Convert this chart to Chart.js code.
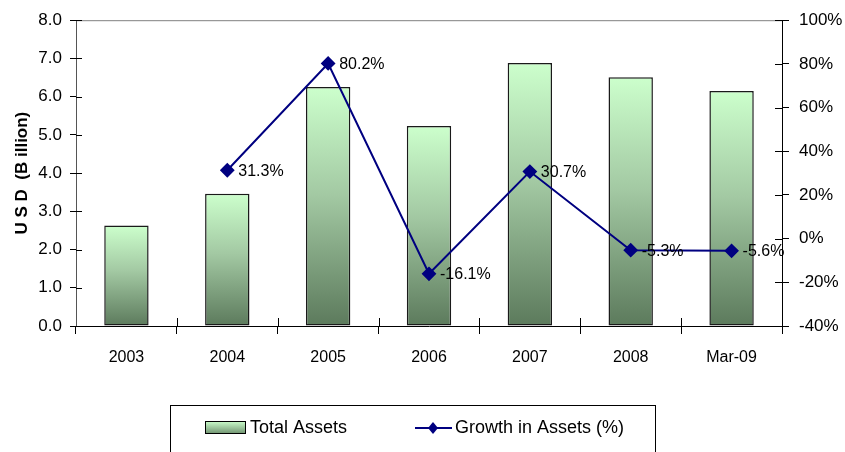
<!DOCTYPE html>
<html>
<head>
<meta charset="utf-8">
<title>Total Assets</title>
<script src="https://cdn.jsdelivr.net/npm/chart.js@4/dist/chart.umd.min.js"></script>
<style>
  html, body { margin: 0; padding: 0; background: #fff; }
  #wrap { width: 845px; height: 452px; position: relative; }
</style>
</head>
<body>
<div id="wrap"><canvas id="assetsChart" width="845" height="452"></canvas></div>
<script>
const categories = ['2003', '2004', '2005', '2006', '2007', '2008', 'Mar-09'];
const totalAssets = [2.63, 3.46, 6.25, 5.23, 6.88, 6.51, 6.15];
const growthPct = [null, 31.3, 80.2, -16.1, 30.7, -5.3, -5.6];
const growthLabels = [null, '31.3%', '80.2%', '-16.1%', '30.7%', '-5.3%', '-5.6%'];

const FONT = '"Liberation Sans Narrow", "Arial Narrow", "Liberation Sans", Arial, sans-serif';
const NAVY = '#000080';

// each bar gets its own light-to-dark vertical gradient
function barFill(ctx) {
  const chart = ctx.chart;
  if (!chart.chartArea || !chart.scales.y) return '#9fc59f';
  const y = chart.scales.y;
  const top = y.getPixelForValue(totalAssets[ctx.dataIndex]);
  const base = y.getPixelForValue(0);
  const g = chart.ctx.createLinearGradient(0, top, 0, base);
  g.addColorStop(0, '#ccffcc');
  g.addColorStop(0.45, '#a3c9a3');
  g.addColorStop(1, '#5c7a5c');
  return g;
}

// percentage labels to the right of each marker
const pointLabels = {
  id: 'pointLabels',
  afterDatasetsDraw(chart) {
    const meta = chart.getDatasetMeta(1);
    const c = chart.ctx;
    c.save();
    c.font = '16px ' + FONT;
    c.fillStyle = '#000';
    c.textBaseline = 'middle';
    meta.data.forEach((pt, i) => {
      if (growthLabels[i] == null) return;
      c.fillText(growthLabels[i], pt.x + 11, pt.y + 1);
    });
    c.restore();
  }
};

// frame on top, inner tick marks, and the legend box under the chart
const extras = {
  id: 'extras',
  beforeDatasetsDraw(chart) {
    const a = chart.chartArea, c = chart.ctx;
    c.save();
    c.strokeStyle = '#808080';
    c.lineWidth = 1;
    c.beginPath();
    c.moveTo(a.left, a.top + 0.5);
    c.lineTo(a.right, a.top + 0.5);
    c.stroke();
    // inner halves of the tick marks
    c.strokeStyle = '#000';
    c.beginPath();
    chart.scales.y.ticks.forEach(t => {
      const py = Math.round(chart.scales.y.getPixelForValue(t.value)) + 0.5;
      c.moveTo(a.left, py); c.lineTo(a.left + 6, py);
    });
    chart.scales.y1.ticks.forEach(t => {
      const py = Math.round(chart.scales.y1.getPixelForValue(t.value)) + 0.5;
      c.moveTo(a.right - 7, py); c.lineTo(a.right, py);
    });
    const xs = chart.scales.x;
    for (let i = 1; i < categories.length; i++) {
      const px = Math.round((xs.getPixelForTick(i - 1) + xs.getPixelForTick(i)) / 2) + 0.5;
      c.moveTo(px, a.bottom); c.lineTo(px, a.bottom - 8);
    }
    c.stroke();
    c.restore();
  },
  afterDraw(chart) {
    const c = chart.ctx;
    c.save();
    c.strokeStyle = '#000';
    c.lineWidth = 1;
    c.strokeRect(170.5, 405.5, 485, 60);
    // bar swatch
    const g = c.createLinearGradient(0, 421, 0, 434);
    g.addColorStop(0, '#ccffcc');
    g.addColorStop(1, '#6f916f');
    c.fillStyle = g;
    c.fillRect(205, 421, 40, 12);
    c.strokeRect(205.5, 421.5, 40, 12);
    c.font = '18px ' + FONT;
    c.fillStyle = '#000';
    c.textBaseline = 'middle';
    c.fillText('Total Assets', 250, 428);
    // line swatch
    c.strokeStyle = NAVY;
    c.lineWidth = 2;
    c.beginPath();
    c.moveTo(415, 428);
    c.lineTo(452, 428);
    c.stroke();
    c.fillStyle = NAVY;
    c.beginPath();
    c.moveTo(433, 422);
    c.lineTo(438, 428);
    c.lineTo(433, 434);
    c.lineTo(428, 428);
    c.closePath();
    c.fill();
    c.fillStyle = '#000';
    c.fillText('Growth in Assets (%)', 455, 428);
    c.restore();
  }
};

new Chart(document.getElementById('assetsChart').getContext('2d'), {
  type: 'bar',
  data: {
    labels: categories,
    datasets: [{
      type: 'bar',
      label: 'Total Assets',
      data: totalAssets,
      yAxisID: 'y',
      backgroundColor: barFill,
      borderColor: '#1a1a1a',
      borderWidth: 1.5,
      borderSkipped: false,
      barPercentage: 0.44,
      categoryPercentage: 1.0,
      order: 2
    }, {
      type: 'line',
      label: 'Growth in Assets (%)',
      data: growthPct,
      yAxisID: 'y1',
      borderColor: NAVY,
      backgroundColor: NAVY,
      borderWidth: 2,
      pointStyle: 'rectRot',
      pointRadius: 6,
      pointHoverRadius: 6,
      tension: 0,
      spanGaps: false,
      order: 1
    }]
  },
  options: {
    responsive: false,
    animation: false,
    devicePixelRatio: 1,
    layout: { padding: { top: 19, bottom: 76, left: 0, right: 0 } },
    plugins: {
      legend: { display: false },
      tooltip: { enabled: false }
    },
    scales: {
      x: {
        grid: { display: true, offset: true, drawOnChartArea: false, color: '#000', tickLength: 8, tickColor: '#000' },
        border: { display: true, color: '#000', width: 1 },
        ticks: { font: { family: FONT, size: 16 }, color: '#000', padding: 14 },
        afterFit(s) { s.height = 50; }
      },
      y: {
        position: 'left',
        min: 0, max: 8,
        grid: { drawOnChartArea: false, color: '#000', tickLength: 6 },
        border: { display: true, color: '#555', width: 1 },
        ticks: {
          stepSize: 1,
          font: { family: FONT, size: 17 },
          color: '#000',
          padding: 8,
          callback: v => v.toFixed(1)
        },
        title: {
          display: true,
          text: 'U S D  (B illion)',
          font: { family: '"Liberation Sans", Arial, sans-serif', size: 17, weight: 'bold' },
          color: '#000',
          padding: { top: 12, bottom: 0 }
        },
        afterFit(s) { s.width = 76; }
      },
      y1: {
        position: 'right',
        min: -40, max: 100,
        grid: { drawOnChartArea: false, color: '#000', tickLength: 7 },
        border: { display: true, color: '#000', width: 1 },
        ticks: {
          stepSize: 20,
          font: { family: FONT, size: 17 },
          color: '#000',
          padding: 10,
          callback: v => v + '%'
        },
        afterFit(s) { s.width = 63; }
      }
    }
  },
  plugins: [pointLabels, extras]
});
</script>
</body>
</html>
